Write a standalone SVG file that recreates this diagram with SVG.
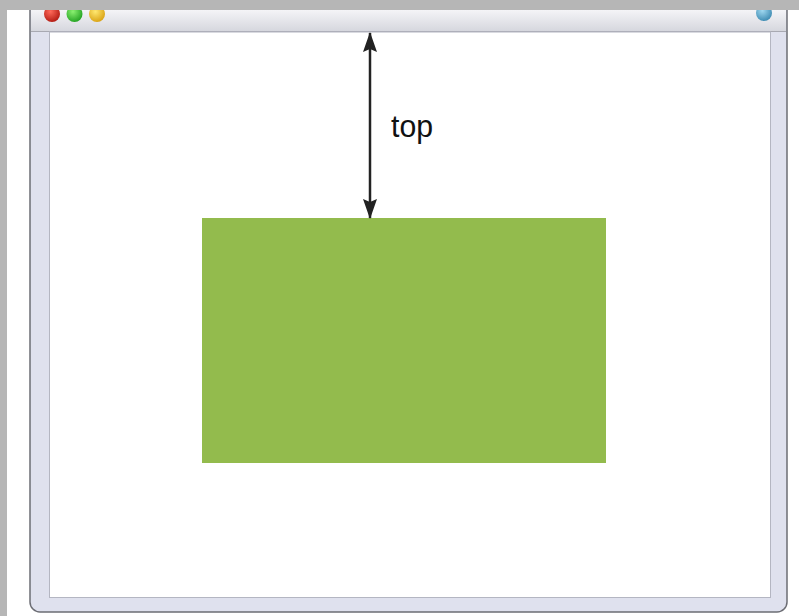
<svg xmlns="http://www.w3.org/2000/svg" width="799" height="616" viewBox="0 0 799 616">
  <defs>
    <linearGradient id="tb" x1="0" y1="0" x2="0" y2="1">
      <stop offset="0" stop-color="#f4f4f7"/>
      <stop offset="1" stop-color="#d6d7de"/>
    </linearGradient>
    <radialGradient id="gr" cx="0.4" cy="0.35" r="0.7">
      <stop offset="0" stop-color="#ff6a5a"/>
      <stop offset="1" stop-color="#b01810"/>
    </radialGradient>
    <radialGradient id="gg" cx="0.4" cy="0.35" r="0.7">
      <stop offset="0" stop-color="#8af070"/>
      <stop offset="1" stop-color="#20a020"/>
    </radialGradient>
    <radialGradient id="gy" cx="0.4" cy="0.35" r="0.7">
      <stop offset="0" stop-color="#ffe870"/>
      <stop offset="1" stop-color="#d8a010"/>
    </radialGradient>
    <radialGradient id="gb" cx="0.4" cy="0.35" r="0.7">
      <stop offset="0" stop-color="#a0d8f0"/>
      <stop offset="1" stop-color="#3a88b0"/>
    </radialGradient>
    <marker id="ah" viewBox="0 0 22 16" refX="21" refY="8" markerWidth="22" markerHeight="16" markerUnits="userSpaceOnUse" orient="auto-start-reverse">
      <path d="M22 8 L2 1 L5 8 L2 15 Z" fill="#222"/>
    </marker>
    <style>
      .lbl { font-family: "Liberation Sans", Arial, sans-serif; font-size: 32px; fill: #111; }
    </style>
  </defs>

  <rect x="0" y="0" width="799" height="616" fill="#ffffff"/>

  <g id="window">
    <rect x="30" y="-20" width="757" height="632" rx="10" fill="#dfe1ee" stroke="#6c6d74" stroke-width="1.5"/>
    <rect x="31" y="10" width="755" height="21" fill="url(#tb)"/>
    <line x1="31" y1="31.5" x2="786" y2="31.5" stroke="#a8a9b2" stroke-width="1"/>
    <rect x="49.5" y="32" width="721" height="565.5" fill="#ffffff" stroke="#b4b6c2" stroke-width="1"/>
    <circle cx="52" cy="14" r="8" fill="url(#gr)"/>
    <circle cx="74.5" cy="14" r="8" fill="url(#gg)"/>
    <circle cx="97" cy="14" r="8" fill="url(#gy)"/>
    <circle cx="764" cy="13" r="8" fill="url(#gb)"/>
  </g>

  <rect x="0" y="0" width="799" height="10" fill="#b6b6b6"/>
  <rect x="0" y="0" width="7" height="616" fill="#b6b6b6"/>

  <g id="box">
    <rect x="202" y="218" width="404" height="245" fill="#93bb4d"/>
  </g>

  <g id="connectors">
    <line x1="370" y1="33" x2="370" y2="218" stroke="#222" stroke-width="2.5" marker-start="url(#ah)" marker-end="url(#ah)"/>
  </g>

  <g id="label">
    <text class="lbl" x="391" y="137" textLength="42" lengthAdjust="spacingAndGlyphs">top</text>
  </g>
</svg>
